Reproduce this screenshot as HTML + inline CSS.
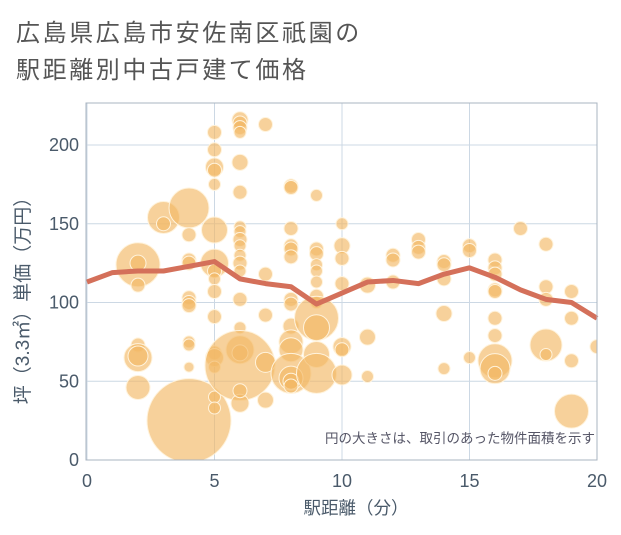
<!DOCTYPE html>
<html><head><meta charset="utf-8"><style>
body{margin:0;background:#fff;font-family:"Liberation Sans","Noto Sans CJK JP",sans-serif;}
</style></head><body>
<svg width="621" height="530" xmlns="http://www.w3.org/2000/svg" style="font-family:'Liberation Sans','Noto Sans CJK JP',sans-serif">
<rect x="0" y="0" width="621" height="530" fill="#fff"/>
<text x="16" y="41" font-size="24" letter-spacing="2.6" fill="#555">広島県広島市安佐南区祇園の</text>
<text x="16" y="78" font-size="24" letter-spacing="2.6" fill="#555">駅距離別中古戸建て価格</text>
<g id="grid"></g>
<g id="bubbles"></g>
<g id="line"></g>
<rect x="86" y="103" width="511" height="357" fill="none" stroke="#aab4c0" stroke-width="1"/>
<g id="ticks"></g>
<text x="356" y="514" font-size="17.5" fill="#4a5a6a" text-anchor="middle">駅距離（分）</text>
<text transform="translate(29,296) rotate(-90)" font-size="19" fill="#4a5a6a" text-anchor="middle">坪（3.3㎡）単価（万円）</text>
<text x="595" y="443" font-size="13.5" fill="#556" text-anchor="end">円の大きさは、取引のあった物件面積を示す</text>
</svg>
<script>
const xTicks=[0,5,10,15,20];
const yTicks=[0,50,100,150,200];
const lineX=[0,1,2,3,4,5,6,7,8,9,10,11,12,13,14,15,16,17,18,19,20];
const lineY=[113,119,120,120,123,126,115,112,110,99,106,113,114,112,118,122,116,108,102,100,90];
const bubbleX=[2,2,2,2,2,2,2,3,3,4,4,4,4,4,4,4,4,4,4,4,5,5,5,5,5,5,5,5,5,5,5,5,5,5,5,5,6,6,6,6,6,6,6,6,6,6,6,6,6,6,6,6,6,6,6,6,7,7,7,7,7,8,8,8,8,8,8,8,8,8,8,8,8,8,8,8,9,9,9,9,9,9,9,9,9,9,9,9,10,10,10,10,10,10,10,11,11,11,12,12,12,13,13,13,14,14,14,14,14,15,15,15,16,16,16,16,16,16,16,16,16,16,17,18,18,18,18,18,19,19,19,19,20];
const bubbleY=[124,125,111,73,65,66,46,154,150,160,143,127,125,103,100,98,75,73,59,25,208,197,186,184,175,146,125,120,115,107,91,68,65,59,40,33,216,214,211,208,189,170,148,145,140,136,130,125,120,102,84,70,68,60,36,44,213,118,92,62,38,174,173,147,136,134,129,102,99,85,75,70,55,52,50,47,168,134,131,124,120,113,104,100,90,84,67,55,150,136,128,112,72,70,54,111,78,53,130,127,113,140,135,132,126,124,115,93,58,136,133,65,127,122,118,108,107,90,79,63,58,55,147,137,110,102,73,67,107,90,63,31,72];
const bubbleR=[22,8,7,7,14,10,12,16,7,20,7,7,7,7,7,7,6,6,5,42,7,7,9,7,6,13,14,7,6,7,7,7,9,6,6,6,8,7,7,6,8,7,6,6,7,6,6,7,6,7,6,14,8,35,9,7,7,7,7,10,8,7,7,7,7,7,7,7,7,8,12,12,20,12,8,7,6,7,7,6,6,6,7,6,22,13,13,20,6,8,7,7,9,7,10,8,8,6,7,7,7,7,7,7,7,7,7,8,6,7,7,6,7,7,7,7,7,7,7,17,15,7,7,7,7,7,16,6,7,7,7,17,7];
const X0=87,X1=597,Y0=460,Y200=145;
const sx=v=>X0+(X1-X0)*v/20;
const sy=v=>Y0-(Y0-Y200)*v/200;
const NS='http://www.w3.org/2000/svg';
const grid=document.getElementById('grid'),ticks=document.getElementById('ticks');
xTicks.forEach(t=>{
 const l=document.createElementNS(NS,'line');
 
 
 l.setAttribute('x1',sx(t));l.setAttribute('x2',sx(t));l.setAttribute('y1',103);l.setAttribute('y2',460);
 l.setAttribute('stroke','#ccd8e4');grid.appendChild(l);
 const tx=document.createElementNS(NS,'text');
 
 
 tx.setAttribute('x',sx(t));tx.setAttribute('y',487);tx.setAttribute('font-size','18');tx.setAttribute('fill','#4a5a6a');tx.setAttribute('text-anchor','middle');
 tx.textContent=t;ticks.appendChild(tx);
});
yTicks.forEach(t=>{
 const l=document.createElementNS(NS,'line');
 
 
 l.setAttribute('x1',86);l.setAttribute('x2',597);l.setAttribute('y1',sy(t));l.setAttribute('y2',sy(t));
 l.setAttribute('stroke','#ccd8e4');grid.appendChild(l);
 const tx=document.createElementNS(NS,'text');
 
 
 tx.setAttribute('x',79);tx.setAttribute('y',sy(t)+6);tx.setAttribute('font-size','18');tx.setAttribute('fill','#4a5a6a');tx.setAttribute('text-anchor','end');
 tx.textContent=t;ticks.appendChild(tx);
});
const bg=document.getElementById('bubbles');
const cp=document.createElementNS(NS,'clipPath');cp.setAttribute('id','clip');
const cr=document.createElementNS(NS,'rect');cr.setAttribute('x',86);cr.setAttribute('y',103);cr.setAttribute('width',511);cr.setAttribute('height',357);
cp.appendChild(cr);bg.appendChild(cp);bg.setAttribute('clip-path','url(#clip)');
bubbleX.forEach((x,i)=>{
 const c=document.createElementNS(NS,'circle');
 
 
 c.setAttribute('cx',sx(x));c.setAttribute('cy',sy(bubbleY[i]));c.setAttribute('r',bubbleR[i]);
 c.setAttribute('fill','#f2b966');c.setAttribute('fill-opacity','0.65');c.setAttribute('stroke','#fff3dc');c.setAttribute('stroke-width','1');
 bg.appendChild(c);
});
const p=document.createElementNS(NS,'polyline');


p.setAttribute('points',lineX.map((x,i)=>sx(x)+','+sy(lineY[i])).join(' '));
p.setAttribute('fill','none');p.setAttribute('stroke','#d4705a');p.setAttribute('stroke-width','5');p.setAttribute('stroke-linejoin','round');
document.getElementById('line').appendChild(p);
</script>
</body></html>
